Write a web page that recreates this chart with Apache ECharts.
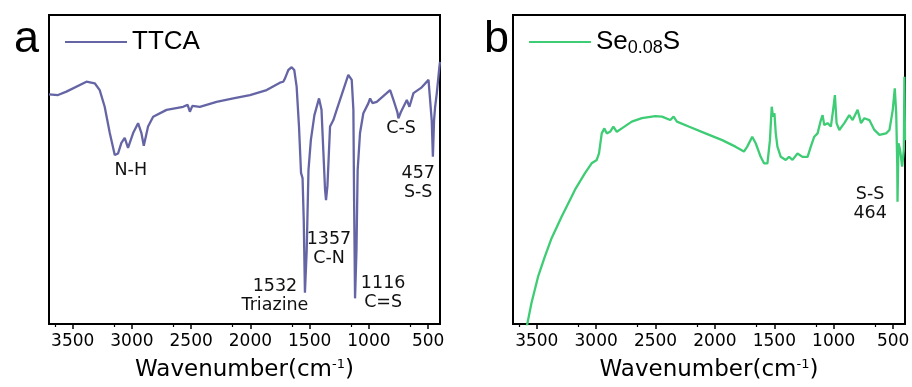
<!DOCTYPE html>
<html>
<head>
<meta charset="utf-8">
<script src="https://cdn.jsdelivr.net/npm/echarts@6/dist/echarts.min.js"></script>
<style>html,body{margin:0;padding:0;background:#fff}#c{width:912px;height:387px}</style>
</head>
<body>
<div id="c"></div>
<script>
// Wavenumber (cm-1) and relative transmittance (a.u.)
const ttcaWn = [3700,3624,3553,3384,3314,3272,3230,3187,3145,3117,3089,3061,3033,2990,2948,2920,2900,2864,2821,2708,2568,2530,2511,2490,2427,2286,2145,2004,1863,1751,1723,1708,1680,1652,1630,1610,1590,1573,1560,1550,1540,1525,1510,1490,1460,1421,1400,1385,1370,1362,1350,1328,1300,1272,1244,1174,1145,1131,1125,1117,1105,1095,1075,1047,1005,990,970,934,850,821,793,760,751,730,708,680,658,624,560,497,483,470,460,450,441,427,405,400];
const ttcaT = [74.3,74.1,75.2,78.4,77.9,75.7,70.3,61.8,54.7,55.2,58.6,60.2,57.0,61.8,65.0,61.8,57.7,63.9,67.1,69.3,70.3,70.9,68.7,70.6,70.3,71.9,73.0,74.1,75.7,78.1,78.4,79.5,82.2,83.1,82.2,76.8,63.9,48.9,47.2,33.7,10.1,23.9,49.8,59.5,67.6,73.0,69.3,56.3,43.4,40.1,44.7,63.9,66.0,69.3,72.5,80.6,79.0,69.3,40.1,8.3,23.9,49.8,61.8,68.2,71.4,73.0,71.5,71.9,74.7,75.7,72.5,68.6,66.6,68.6,70.3,72.5,70.3,74.7,76.4,79.0,78.4,66.0,54.1,66.0,70.3,74.7,83.3,84.8];

const seWn = [3590,3545,3489,3432,3376,3291,3207,3179,3094,3038,2995,2976,2953,2931,2911,2883,2855,2826,2784,2700,2615,2503,2446,2376,2348,2320,2221,2080,1939,1827,1756,1728,1686,1657,1615,1587,1558,1537,1522,1511,1499,1488,1474,1446,1404,1376,1347,1305,1263,1220,1193,1164,1136,1108,1094,1080,1052,1024,1005,990,976,953,911,869,841,813,799,770,742,700,658,615,559,531,503,486,474,465,463,455,441,424,410,405,400];
const seT = [-2,6.7,15.3,21.8,27.7,34.7,41.2,43.4,48.8,52.0,53.1,55.2,61.7,63.3,61.7,62.2,63.9,62.2,63.3,65.5,66.6,67.3,67.1,66.0,67.1,65.5,63.9,61.7,59.5,57.4,55.8,57.4,60.6,58.5,54.1,52.0,52.0,59.5,70.3,67.1,68.2,61.7,57.4,54.1,53.1,54.1,53.1,55.2,54.1,54.1,57.4,60.6,61.7,66.0,67.6,64.4,65.0,63.9,69.3,74.1,65.0,62.8,65.0,67.6,66.0,68.2,69.3,65.0,66.6,66.0,62.8,61.2,61.7,62.8,69.3,76.3,68.2,50.9,39.6,58.5,56.3,50.9,56.3,80.0,59.5];

const xTicks = [3500,3000,2500,2000,1500,1000,500];

// Peak annotations: text, wavenumber, transmittance position
const ttcaNotes = [
  ['N-H', 3010, 49.8],
  ['1532\nTriazine', 1793, 9.1],
  ['1357\nC-N', 1337, 24.3],
  ['1116\nC=S', 880, 9.9],
  ['C-S', 728, 63.3],
  ['457\nS-S', 584, 45.5]
];
const seNotes = [
  ['S-S\n464', 694, 38.7]
];

const FONT = 'Arial, "Liberation Sans", sans-serif';
const WFONT = '"DejaVu Sans", Arial, sans-serif';
const pair = (a, b) => a.map((v, i) => [v, b[i]]);

function xAxisFor(gi) {
  return {
    type: 'value', gridIndex: gi, inverse: true, min: 400, max: 3700,
    interval: 500,
    axisLine: {show: true, onZero: false, lineStyle: {color: '#000', width: 2}},
    axisTick: {show: true, inside: false, length: 5, lineStyle: {color: '#000', width: 1.5},
      customValues: xTicks},
    minorTick: {show: true, splitNumber: 2, length: 3, lineStyle: {color: '#000', width: 1.2}},
    axisLabel: {color: '#000', fontSize: 17, fontFamily: WFONT, margin: 9,
      customValues: xTicks, formatter: v => String(v)},
    splitLine: {show: false},
    name: '{a|Wavenumber(cm}{s|-1}{a|)}',
    nameLocation: 'middle', nameGap: 34,
    nameTextStyle: {
      rich: {
        a: {fontSize: 23, fontFamily: WFONT, color: '#000'},
        s: {fontSize: 13, fontFamily: WFONT, color: '#000', verticalAlign: 'top', padding: [0, 0, 12, 0]}
      }
    }
  };
}
function yAxisFor(gi) {
  return {type: 'value', gridIndex: gi, min: 0, max: 100, show: false};
}
function notes(list) {
  return {
    symbol: 'circle', symbolSize: 0, silent: true,
    label: {show: true, position: 'inside', formatter: '{b}', color: '#111',
      fontSize: 17.5, lineHeight: 19, fontFamily: WFONT, align: 'center'},
    data: list.map(n => ({name: n[0], coord: [n[1], n[2]]}))
  };
}

const chart = echarts.init(document.getElementById('c'), null, {renderer: 'canvas'});
chart.setOption({
  backgroundColor: '#fff',
  animation: false,
  title: [
    {text: 'a', left: 9, top: 12, textStyle: {fontSize: 45, fontWeight: 'normal', fontFamily: FONT, color: '#000'}},
    {text: 'b', left: 479, top: 12, textStyle: {fontSize: 45, fontWeight: 'normal', fontFamily: FONT, color: '#000'}}
  ],
  grid: [
    {left: 49, top: 15, width: 391, height: 309, show: true, borderColor: '#000', borderWidth: 2,
      containLabel: false, outerBoundsMode: 'none'},
    {left: 513, top: 15, width: 392, height: 309, show: true, borderColor: '#000', borderWidth: 2,
      containLabel: false, outerBoundsMode: 'none'}
  ],
  legend: [
    {data: ['TTCA'], left: 60, top: 24, itemWidth: 62, itemHeight: 14, itemGap: 4,
      icon: 'path://M0,6 L62,6 L62,8 L0,8 Z',
      textStyle: {fontSize: 26, fontFamily: FONT, color: '#000'}},
    {data: ['Se0.08S'], left: 524, top: 24, itemWidth: 62, itemHeight: 14, itemGap: 4,
      icon: 'path://M0,6 L62,6 L62,8 L0,8 Z',
      formatter: () => '{a|Se}{s|0.08}{a|S}',
      textStyle: {rich: {
        a: {fontSize: 26, fontFamily: FONT, color: '#000'},
        s: {fontSize: 18, fontFamily: FONT, color: '#000', verticalAlign: 'bottom', padding: [12, 0, 0, 0]}
      }}}
  ],
  xAxis: [xAxisFor(0), xAxisFor(1)],
  yAxis: [yAxisFor(0), yAxisFor(1)],
  series: [
    {name: 'TTCA', type: 'line', xAxisIndex: 0, yAxisIndex: 0, data: pair(ttcaWn, ttcaT),
      showSymbol: false, symbol: 'none', smooth: false, clip: true,
      lineStyle: {color: '#6565a6', width: 2.3}, itemStyle: {color: '#6565a6'},
      markPoint: notes(ttcaNotes)},
    {name: 'Se0.08S', type: 'line', xAxisIndex: 1, yAxisIndex: 1, data: pair(seWn, seT),
      showSymbol: false, symbol: 'none', smooth: false, clip: true,
      lineStyle: {color: '#3ecc75', width: 2.3}, itemStyle: {color: '#3ecc75'},
      markPoint: notes(seNotes)}
  ]
});
</script>
</body>
</html>
